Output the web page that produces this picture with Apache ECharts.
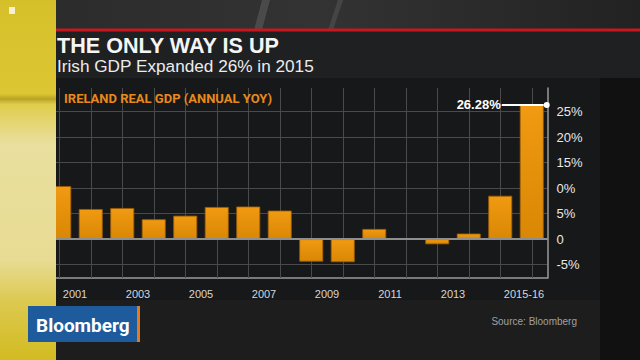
<!DOCTYPE html>
<html>
<head>
<meta charset="utf-8">
<script src="https://cdn.jsdelivr.net/npm/echarts@6/dist/echarts.min.js"></script>
<style>
html,body{margin:0;padding:0;background:#1d1d1d;}
#chart{width:640px;height:360px;}
</style>
</head>
<body>
<div id="chart"></div>
<script>
// ---- data ----
const years = ['2000','2001','2002','2003','2004','2005','2006','2007','2008','2009','2010','2011','2012','2013','2014','2015'];
const gdpGrowth = [10.4, 5.9, 6.1, 3.9, 4.6, 6.3, 6.4, 5.6, -4.4, -4.5, 2.0, 0, -1.0, 1.1, 8.5, 26.28];
const xTickLabels = ['2001','2003','2005','2007','2009','2011','2013','2015-16'];
const yTickValues = [-5, 0, 5, 10, 15, 20, 25];
const yTickLabels = ['-5%','0','5%','0%','15%','20%','25%'];
const titleText = 'THE ONLY WAY IS UP';
const subtitleText = 'Irish GDP Expanded 26% in 2015';
const chartLabel = 'IRELAND REAL GDP (ANNUAL YOY)';
const sourceText = 'Source: Bloomberg';
const logoText = 'Bloomberg';

// half-band slots (boundaries + centres) for gridlines & labels
const slotCount = years.length * 2 + 1;
const slots = [];
for (let i = 0; i < slotCount; i++) slots.push('s' + i);
const slotLabel = {};
xTickLabels.forEach((t, k) => { slotLabel[4 * k + 2] = t; });
const yLabelMap = {};
yTickValues.forEach((v, i) => { yLabelMap[v] = yTickLabels[i]; });
const isCentreSlot = (i) => i % 2 === 1;

const maxIdx = gdpGrowth.indexOf(Math.max.apply(null, gdpGrowth));
const barData = gdpGrowth.map((v, i) => {
  if (i !== maxIdx) return v;
  return {
    value: v,
    label: {
      show: true,
      position: ['100%', 0],
      align: 'right',
      verticalAlign: 'middle',
      offset: [6, 0],
      formatter: (p) => '{a|' + p.value.toFixed(2) + '%}{b|}{c|}',
      rich: {
        a: {color: '#ffffff', fontSize: 13, fontWeight: 'bold', fontFamily: 'Liberation Sans', padding: [0, 1, 0, 0]},
        b: {width: 42, height: 2, backgroundColor: '#ffffff'},
        c: {width: 6, height: 6, borderRadius: 3, backgroundColor: '#ffffff'}
      }
    }
  };
});

const chart = echarts.init(document.getElementById('chart'), null, {renderer: 'svg'});
const option = {
  backgroundColor: '#1d1d1d',
  animation: false,
  textStyle: {fontFamily: 'Liberation Sans'},
  grid: {left: 43.5, right: 92.5, top: 88, bottom: 82, containLabel: false},
  xAxis: [
    {
      type: 'category',
      data: years,
      position: 'bottom',
      z: 3,
      axisLine: {show: true, onZero: true, lineStyle: {color: '#8e8e8e', width: 2}},
      axisTick: {show: false},
      axisLabel: {show: false},
      splitLine: {show: false}
    },
    {
      type: 'category',
      data: slots,
      boundaryGap: false,
      position: 'bottom',
      axisLine: {show: true, onZero: false, lineStyle: {color: '#9a9a9a', width: 1.5}},
      axisTick: {
        show: true,
        inside: true,
        length: 190,
        interval: isCentreSlot,
        lineStyle: {color: '#4a4a4a', width: 1}
      },
      axisLabel: {
        show: true,
        interval: 0,
        margin: 10,
        color: '#d6d6d6',
        fontSize: 11,
        formatter: (v, i) => {
          const t = slotLabel[i];
          if (!t) return '';
          return i === (xTickLabels.length - 1) * 4 + 2 ? '{s|' + t + '}' : t;
        },
        rich: {s: {color: '#d6d6d6', fontSize: 11, padding: [0, 0, 0, 16]}}
      },
      splitLine: {
        show: true,
        interval: isCentreSlot,
        lineStyle: {color: '#4a4a4a', width: 1}
      }
    }
  ],
  yAxis: {
    type: 'value',
    position: 'right',
    min: -7.6,
    max: 29.6,
    minInterval: 5,
    maxInterval: 5,
    axisLine: {show: true, lineStyle: {color: '#9a9a9a', width: 1.5}},
    axisTick: {show: false},
    axisLabel: {
      margin: 9,
      color: '#e8e8e8',
      fontSize: 13,
      formatter: (v) => (yLabelMap[v] !== undefined ? yLabelMap[v] : '')
    },
    splitLine: {show: true, showMinLine: false, showMaxLine: false, lineStyle: {color: '#4a4a4a', width: 1}}
  },
  series: [{
    type: 'bar',
    xAxisIndex: 0,
    data: barData,
    barCategoryGap: '24%',
    itemStyle: {
      color: new echarts.graphic.LinearGradient(0, 0, 0, 1, [
        {offset: 0, color: '#f19a12'},
        {offset: 1, color: '#d98705'}
      ]),
      borderColor: '#9a5c00',
      borderWidth: 0.8
    }
  }],
  graphic: [
    // background pieces
    {type: 'rect', z: -10, silent: true, shape: {x: 0, y: 0, width: 640, height: 30},
     style: {fill: new echarts.graphic.LinearGradient(0, 0, 1, 0, [
       {offset: 0, color: '#2a2a2a'}, {offset: 0.5, color: '#333333'}, {offset: 1, color: '#222222'}])}},
    {type: 'polygon', z: -9, silent: true, shape: {points: [[262, 0], [270, 0], [262, 30], [254, 30]]}, style: {fill: '#4a4a4a'}},
    {type: 'polygon', z: -9, silent: true, shape: {points: [[338, 0], [343, 0], [333, 30], [328, 30]]}, style: {fill: '#454545'}},
    {type: 'rect', z: -10, silent: true, shape: {x: 600, y: 30, width: 40, height: 330}, style: {fill: '#111111'}},
    {type: 'rect', z: -10, silent: true, shape: {x: 53, y: 30, width: 547, height: 270}, style: {fill: '#17181a'}},
    {type: 'rect', z: -9, silent: true, shape: {x: 53, y: 30, width: 587, height: 48}, style: {fill: '#1f2022'}},
    {type: 'rect', z: -8, silent: true, shape: {x: 53, y: 28.5, width: 587, height: 3}, style: {fill: '#c8161e'}},
    // titles
    {type: 'text', z: 20, silent: true, x: 57, y: 45,
     style: {text: titleText, fill: '#f5f5f5', font: 'bold 21.6px "Liberation Sans"', verticalAlign: 'middle'}},
    {type: 'text', z: 20, silent: true, x: 57, y: 66,
     style: {text: subtitleText, fill: '#ececec', font: '17.2px "Liberation Sans"', verticalAlign: 'middle'}},
    {type: 'text', z: 20, silent: true, x: 64, y: 98.5,
     style: {text: chartLabel, fill: '#e8891c', font: 'bold 13px Roboto', verticalAlign: 'middle'}},
    {type: 'text', z: 20, silent: true, x: 577, y: 321,
     style: {text: sourceText, fill: '#a0a0a0', font: '10px "Liberation Sans"', align: 'right', verticalAlign: 'middle'}},
    // yellow studio strip on the left
    {type: 'rect', z: 100, silent: true, shape: {x: 0, y: 0, width: 56, height: 360},
     style: {fill: new echarts.graphic.LinearGradient(0, 0, 0, 1, [
       {offset: 0, color: '#d6c02a'},
       {offset: 0.26, color: '#dcc733'},
       {offset: 0.275, color: '#b9a326'},
       {offset: 0.29, color: '#e0cd4c'},
       {offset: 0.4, color: '#e9df9e'},
       {offset: 0.72, color: '#e8dc94'},
       {offset: 0.84, color: '#dcc94e'},
       {offset: 1, color: '#d2bb22'}])}},
    {type: 'rect', z: 101, silent: true, shape: {x: 9, y: 7, width: 6, height: 7}, style: {fill: '#f4f0d8'}},
    // Bloomberg logo
    {type: 'rect', z: 110, silent: true, shape: {x: 28, y: 306, width: 109, height: 36}, style: {fill: '#1d5b9c'}},
    {type: 'rect', z: 110, silent: true, shape: {x: 137, y: 306, width: 3, height: 36}, style: {fill: '#e07b20'}},
    {type: 'text', z: 111, silent: true, x: 36, y: 325,
     style: {text: logoText, fill: '#ffffff', font: 'bold 19px Roboto', verticalAlign: 'middle'}}
  ]
};
chart.setOption(option);
</script>
</body>
</html>
